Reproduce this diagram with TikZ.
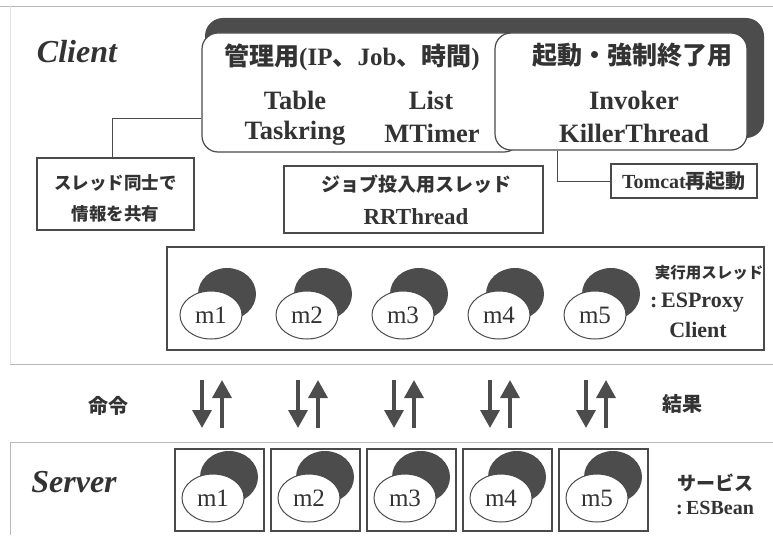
\documentclass[tikz,border=0pt]{standalone}
\usepackage{fontspec}
\setmainfont{Liberation Serif}
\newfontfamily\jp{Noto Sans CJK JP}
\usetikzlibrary{shapes.geometric,arrows.meta,calc}
\definecolor{textc}{HTML}{333333}
\definecolor{linec}{HTML}{4A4A4A}
\definecolor{darkc}{HTML}{4C4C4C}
\definecolor{framec}{HTML}{B8B8B8}
\newcommand{\fs}[1]{\fontsize{#1}{#1}\selectfont}
\tikzset{
  txt/.style={inner sep=0pt, text=textc, font=\bfseries},
  big/.style={inner sep=0pt, text=textc, font=\fs{32}\bfseries\itshape},
  frameline/.style={draw=framec, line width=0.9pt},
  rbox/.style={draw=linec, line width=1.2pt, rounded corners=16pt, fill=white, inner sep=0pt},
  shadowbox/.style={fill=darkc, rounded corners=18pt, inner sep=0pt},
  sbox/.style={draw=linec, line width=1.1pt, fill=white, inner sep=0pt},
  mwhite/.style={ellipse, draw=linec, line width=1pt, fill=white, minimum width=62pt, minimum height=48pt, inner sep=0pt, text=textc, font=\fs{25}},
  mdark/.style={ellipse, fill=darkc, minimum width=58pt, minimum height=52pt, inner sep=0pt},
  conn/.style={draw=linec, line width=1pt},
  arr/.style={draw=darkc, line width=3.5pt, -{Triangle[width=19pt,length=18pt]}},
}
\begin{document}
\begin{tikzpicture}[x=1pt,y=-1pt]
\useasboundingbox (0,0) rectangle (773,535);
% frames
\coordinate (fA) at (0,6);
\coordinate (fB) at (773,6);
\coordinate (fC) at (10,6);
\coordinate (fD) at (10,364);
\coordinate (fE) at (773,364);
\coordinate (fF) at (10,442);
\coordinate (fG) at (773,442);
\coordinate (fH) at (10,535);
\draw[frameline] (fA) -- (fB);
\draw[frameline, draw=framec!40] (fC) -- (fD);
\draw[frameline] (fD) -- (fE);
\draw[frameline] (fH) -- (fF) -- (fG);

% labels
\node[big] (client) at (77,52) {Client};
\node[big] (server) at (74,482) {Server};

% management boxes
\node[shadowbox, minimum width=559pt, minimum height=120pt] (shadow) at (484.5,78) {};
\node[rbox, minimum width=318pt, minimum height=119pt] (box1) at (361,92.5) {};
\node[rbox, minimum width=252pt, minimum height=117pt] (box2) at (621,91.5) {};

\node[txt, anchor=west, font=\fs{25}\bfseries] (t1) at (224,57) {{\jp 管理用}(IP{\jp 、}Job{\jp 、時間})};
\node[txt, font=\fs{26.5}\bfseries] (table) at (295,100) {Table};
\node[txt, font=\fs{26.5}\bfseries] (list) at (431,100) {List};
\node[txt, font=\fs{26.5}\bfseries] (taskring) at (295,133) {Taskring};
\node[txt, font=\fs{26.5}\bfseries] (mtimer) at (432,133) {MTimer};

\node[txt, font=\fs{25}\jp\bfseries] (t2) at (632,55) {起動・強制終了用};
\node[txt, font=\fs{26.5}\bfseries] (invoker) at (634,100) {Invoker};
\node[txt, font=\fs{26.5}\bfseries] (killer) at (634,133) {KillerThread};

% side boxes
\node[sbox, minimum width=157pt, minimum height=72pt] (share) at (115.5,194) {};
\node[txt, font=\fs{17.5}\jp\bfseries] (share1) at (115.5,183) {スレッド同士で};
\node[txt, font=\fs{17.5}\jp\bfseries] (share2) at (115.5,214) {情報を共有};

\node[sbox, minimum width=259pt, minimum height=67pt] (job) at (413.5,199.5) {};
\node[txt, font=\fs{19}\jp\bfseries] (job1) at (416,184) {ジョブ投入用スレッド};
\node[txt, font=\fs{23}\bfseries] (job2) at (416,217) {RRThread};

\node[sbox, minimum width=146pt, minimum height=34pt] (tomcat) at (684,181) {};
\node[txt, font=\fs{20}\bfseries] (tomcatt) at (684,181) {Tomcat{\jp 再起動}};

\draw[conn] ([yshift=-25.5pt]box1.west) -| ([xshift=-3.5pt]share.north);
\draw[conn] ([xshift=-64pt]box2.south) |- (tomcat.west);

% thread box
\node[sbox, minimum width=597pt, minimum height=103pt] (threads) at (465.5,298.5) {};
\foreach \i/\cx in {1/211,2/307,3/403,4/499,5/595}{
  \node[mdark] (cd\i) at (\cx+16,294) {};
  \node[mwhite] (c\i) at (\cx,315) {m\i};
}
\node[txt, font=\fs{15.5}\jp\bfseries] (exec1) at (709,273) {実行用スレッド};
\node[txt, font=\fs{22}\bfseries] (exec2) at (697,303) {:\,ESProxy};
\node[txt, font=\fs{22}\bfseries] (exec3) at (698,330) {Client};

% arrows
\foreach \i/\d in {1/202,2/298,3/394,4/490,5/586}{
  \coordinate (dA\i) at (\d,380);
  \coordinate (dB\i) at (\d,428);
  \coordinate (uA\i) at (\d+20,428);
  \coordinate (uB\i) at (\d+20,380);
  \draw[arr] (dA\i) -- (dB\i);
  \draw[arr] (uA\i) -- (uB\i);
}
\node[txt, font=\fs{20}\jp\bfseries] (cmd) at (108,406) {命令};
\node[txt, font=\fs{20}\jp\bfseries] (res) at (682,404) {結果};

% server boxes
\foreach \i/\l in {1/175,2/271,3/367,4/463,5/559}{
  \node[sbox, minimum width=89pt, minimum height=82pt] (s\i) at (\l+44.5,490) {};
  \node[mdark] (sd\i) at (\l+38+16,477) {};
  \node[mwhite] (sm\i) at (\l+38,498) {m\i};
}
\node[txt, font=\fs{19}\jp\bfseries] (svc1) at (715,483) {サービス};
\node[txt, font=\fs{20}\bfseries] (svc2) at (715,508) {:\,ESBean};
\end{tikzpicture}
\end{document}
